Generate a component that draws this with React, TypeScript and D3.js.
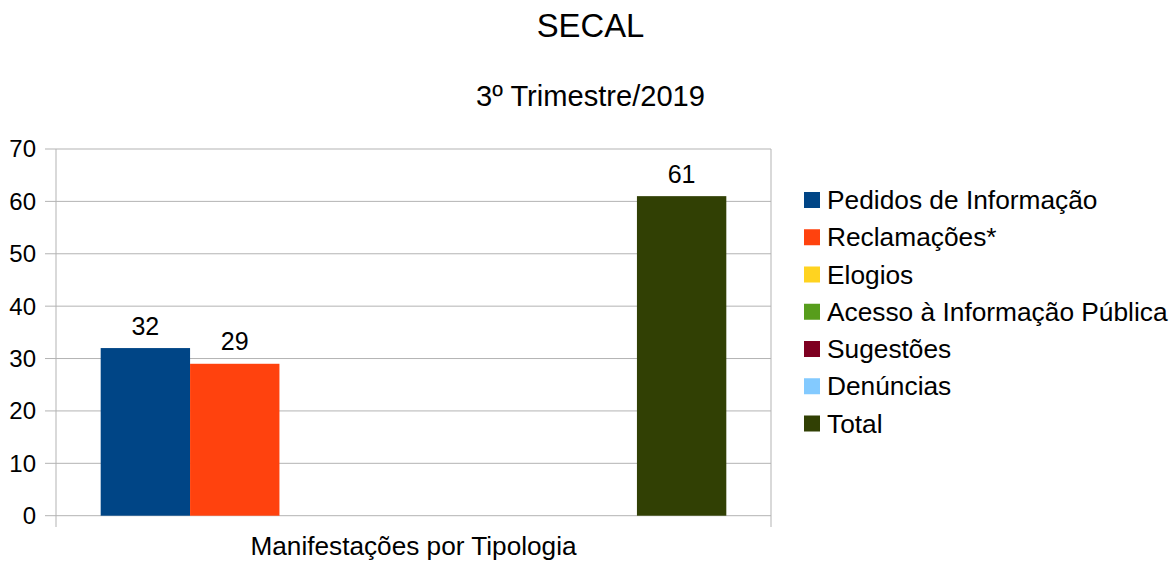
import * as React from "react";
import * as d3 from "d3";

// chart data
const categories = ["Manifestações por Tipologia"];
const seriesNames = [
  "Pedidos de Informação",
  "Reclamações*",
  "Elogios",
  "Acesso à Informação Pública",
  "Sugestões",
  "Denúncias",
  "Total",
];
const seriesValues: (number | null)[] = [32, 29, null, null, null, null, 61];
const seriesColors = ["#004586", "#ff420e", "#ffd320", "#579d1c", "#7e0021", "#83caff", "#314004"];
const yTicks = [0, 10, 20, 30, 40, 50, 60, 70];

const title = "SECAL";
const subtitle = "3º Trimestre/2019";

const W = 1174;
const H = 564;
const plot = { left: 56, right: 771, top: 149, bottom: 515.7 };
const font = "'Liberation Sans', Arial, sans-serif";

export default function App() {
  const y = d3.scaleLinear().domain([0, 70]).range([plot.bottom, plot.top]);
  const x0 = d3
    .scaleBand()
    .domain(categories)
    .range([plot.left, plot.right])
    .paddingInner(0.125)
    .paddingOuter(0.0625);
  const x1 = d3
    .scaleBand()
    .domain(seriesNames)
    .range([0, x0.bandwidth()]);
  const legendY = d3
    .scalePoint()
    .domain(seriesNames)
    .range([200, 423.5]);

  const gridColor = "#b3b3b3";

  return (
    <svg
      width={W}
      height={H}
      style={{ position: "absolute", left: 0, top: 0, background: "#fff" }}
      fontFamily={font}
    >
      <text x={590.5} y={36.7} textAnchor="middle" fontSize={32.8} fill="#000">
        {title}
      </text>
      <text x={590.5} y={106} textAnchor="middle" fontSize={29.1} fill="#000">
        {subtitle}
      </text>

      {/* grid + y axis */}
      {yTicks.map((t) => (
        <g key={t}>
          <line x1={45} x2={plot.right} y1={y(t)} y2={y(t)} stroke={gridColor} strokeWidth={1} />
          <text x={36} y={y(t)} dy="0.35em" textAnchor="end" fontSize={24} fill="#000">
            {t}
          </text>
        </g>
      ))}
      <line x1={plot.left} x2={plot.left} y1={plot.top} y2={527} stroke={gridColor} />
      <line x1={plot.right} x2={plot.right} y1={plot.top} y2={527} stroke={gridColor} />

      {/* bars */}
      {categories.map((c) => (
        <g key={c} transform={`translate(${x0(c)},0)`}>
          {seriesNames.map((s, i) => {
            const v = seriesValues[i];
            if (v == null) return null;
            const bx = x1(s)!;
            return (
              <g key={s}>
                <rect
                  x={bx}
                  y={y(v)}
                  width={x1.bandwidth()}
                  height={y(0) - y(v)}
                  fill={seriesColors[i]}
                />
                <text
                  x={bx + x1.bandwidth() / 2}
                  y={y(v) - 13.5}
                  textAnchor="middle"
                  fontSize={25}
                  fill="#000"
                >
                  {v}
                </text>
              </g>
            );
          })}
          <text
            x={x0.bandwidth() / 2 + (plot.left + plot.right) / 2 - (x0(c)! + x0.bandwidth() / 2)}
            y={555}
            textAnchor="middle"
            fontSize={26.2}
            fill="#000"
          >
            {c}
          </text>
        </g>
      ))}

      {/* legend */}
      {seriesNames.map((s, i) => (
        <g key={s}>
          <rect x={804} y={legendY(s)! - 8} width={16} height={16} fill={seriesColors[i]} />
          <text x={827} y={legendY(s)!} dy="0.35em" fontSize={26.3} fill="#000">
            {s}
          </text>
        </g>
      ))}
    </svg>
  );
}
